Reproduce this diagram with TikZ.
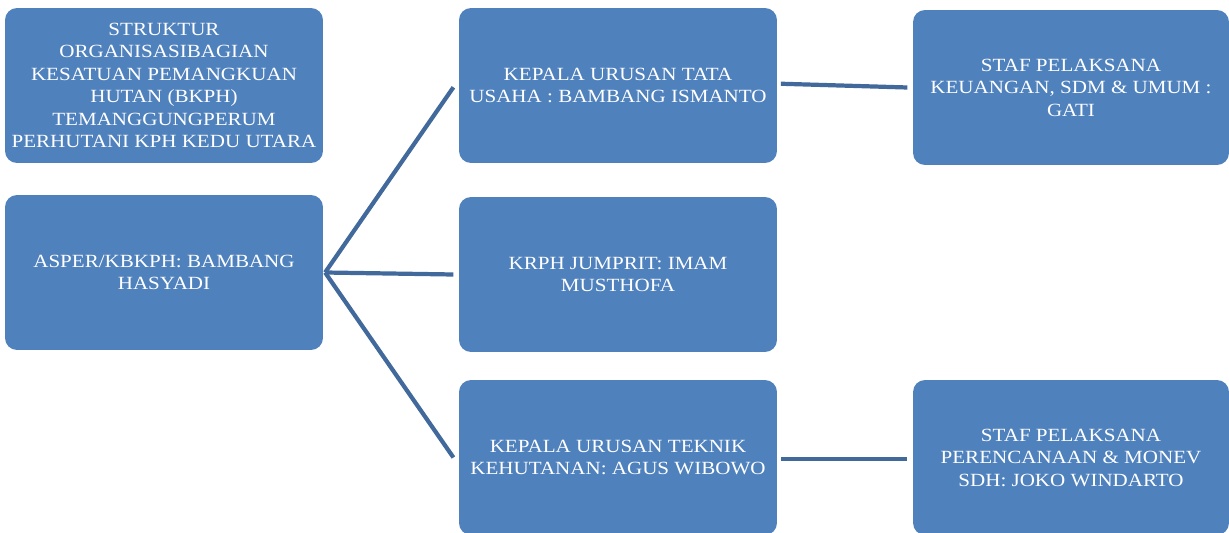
\documentclass[tikz,border=0pt]{standalone}
\usepackage{fontspec}
\setmainfont{Liberation Serif}[FakeStretch=1.13]
\definecolor{boxblue}{HTML}{4F81BD}
\definecolor{linkblue}{HTML}{41699B}
\tikzset{
	unit/.style={rectangle, rounded corners=0.24cm, fill=boxblue, text=white,
		minimum width=6.36cm, minimum height=3.1cm, align=center,
		inner sep=0pt, font=\fontsize{10.6}{12.8}\selectfont},
	link/.style={draw=linkblue, line width=2.4pt}
}
\begin{document}
\begin{tikzpicture}[x=0.02cm,y=-0.02cm]
		\useasboundingbox (0,0) rectangle (1229,533);
		\clip (0,0) rectangle (1229,533);
		%left column
		\node[unit] (judul) at (164,85.5) {STRUKTUR\\ORGANISASIBAGIAN\\KESATUAN PEMANGKUAN\\HUTAN (BKPH)\\TEMANGGUNGPERUM\\PERHUTANI KPH KEDU UTARA};
		\node[unit] (asper) at (164,272.5) {ASPER/KBKPH: BAMBANG\\HASYADI};
		%middle column
		\node[unit] (tatausaha) at (618,85.5) {KEPALA URUSAN TATA\\USAHA : BAMBANG ISMANTO};
		\node[unit] (krph) at (618,274.5) {KRPH JUMPRIT: IMAM\\MUSTHOFA};
		\node[unit] (teknik) at (618,457.5) {KEPALA URUSAN TEKNIK\\KEHUTANAN: AGUS WIBOWO};
		%right column
		\node[unit, minimum width=6.32cm] (stafkeu) at (1071,87.5) {STAF PELAKSANA\\KEUANGAN, SDM \& UMUM :\\GATI};
		\node[unit, minimum width=6.32cm] (stafren) at (1071,457.5) {STAF PELAKSANA\\PERENCANAAN \& MONEV\\SDH: JOKO WINDARTO};
		%lines
		\draw[link] ([xshift=1pt]asper.east) -- ([xshift=-3pt,yshift=-1pt]tatausaha.west);
		\draw[link] ([xshift=1pt]asper.east) -- ([xshift=-3pt]krph.west);
		\draw[link] ([xshift=1pt]asper.east) -- ([xshift=-3pt]teknik.west);
		\draw[link] ([xshift=2pt,yshift=1pt]tatausaha.east) -- ([xshift=-3pt]stafkeu.west);
		\draw[link] ([xshift=2pt,yshift=-1pt]teknik.east) -- ([xshift=-3pt,yshift=-1pt]stafren.west);
	\end{tikzpicture}
\end{document}
